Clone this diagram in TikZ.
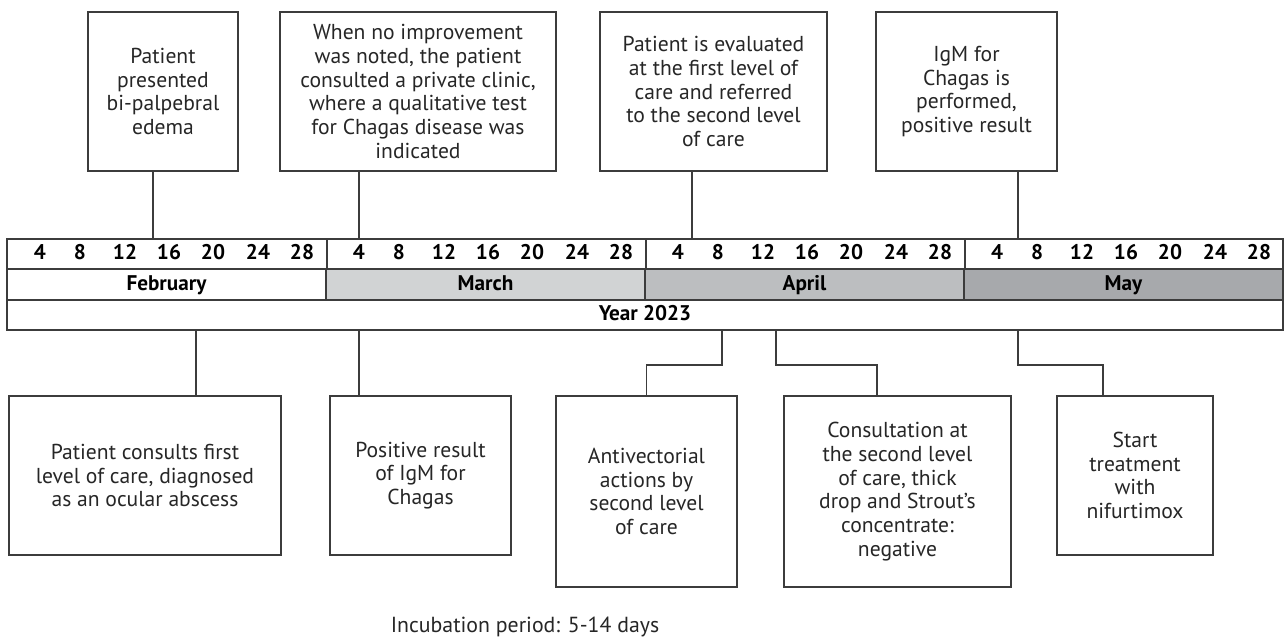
\documentclass[tikz,border=0pt]{standalone}
\usepackage{fontspec}
\setmainfont{PT Sans}
\usepackage{tikz}
\definecolor{linegray}{HTML}{3C3C3C}
\definecolor{margray}{HTML}{D1D3D4}
\definecolor{aprgray}{HTML}{BCBEC0}
\definecolor{maygray}{HTML}{A7A9AC}

\begin{document}
\begin{tikzpicture}[x=0.5pt, y=-0.5pt,
		event/.style={draw=linegray, line width=0.75pt, inner sep=0pt, align=center, text=black!85, font=\fontsize{10.8}{11.9}\selectfont},
		cell/.style={draw=linegray, line width=0.75pt, inner sep=0pt, text height=1.45ex, text depth=0.3ex, font=\fontsize{10.6}{11}\selectfont\bfseries},
		day/.style={inner sep=0pt, text height=1.45ex, text depth=0.3ex, font=\fontsize{10.6}{11}\selectfont\bfseries},
		link/.style={draw=linegray, line width=0.75pt}]
			%%%%% START %%%%%
			\useasboundingbox (0, 0) rectangle (1285, 639);
			
			% timeline
			\node[cell, minimum width=638pt, minimum height=15pt] (days) at (645, 254) {};
			\node[cell, minimum width=159.5pt, minimum height=15.5pt] (feb) at (166.5, 284.5) {February};
			\node[cell, fill=margray, minimum width=159.5pt, minimum height=15.5pt] (mar) at (485.5, 284.5) {March};
			\node[cell, fill=aprgray, minimum width=159.5pt, minimum height=15.5pt] (apr) at (804.5, 284.5) {April};
			\node[cell, fill=maygray, minimum width=159.5pt, minimum height=15.5pt] (may) at (1123.5, 284.5) {May};
			\node[cell, minimum width=638pt, minimum height=15pt] (year) at (645, 315) {Year 2023};
			
			\draw[link] (feb.north east) -- (feb.north east |- days.north);
			\draw[link] (mar.north east) -- (mar.north east |- days.north);
			\draw[link] (apr.north east) -- (apr.north east |- days.north);
			
			\node[day] (f4) at (40, 254) {4}; \node[day] (f8) at (80, 254) {8}; \node[day] (f12) at (125, 254) {12}; \node[day] (f16) at (169, 254) {16}; \node[day] (f20) at (213, 254) {20}; \node[day] (f24) at (258, 254) {24}; \node[day] (f28) at (302, 254) {28};
			\node[day] (m4) at (359, 254) {4}; \node[day] (m8) at (399, 254) {8}; \node[day] (m12) at (444, 254) {12}; \node[day] (m16) at (488, 254) {16}; \node[day] (m20) at (532, 254) {20}; \node[day] (m24) at (577, 254) {24}; \node[day] (m28) at (621, 254) {28};
			\node[day] (a4) at (678, 254) {4}; \node[day] (a8) at (718, 254) {8}; \node[day] (a12) at (763, 254) {12}; \node[day] (a16) at (807, 254) {16}; \node[day] (a20) at (851, 254) {20}; \node[day] (a24) at (896, 254) {24}; \node[day] (a28) at (940, 254) {28};
			\node[day] (y4) at (997, 254) {4}; \node[day] (y8) at (1037, 254) {8}; \node[day] (y12) at (1082, 254) {12}; \node[day] (y16) at (1126, 254) {16}; \node[day] (y20) at (1170, 254) {20}; \node[day] (y24) at (1215, 254) {24}; \node[day] (y28) at (1259, 254) {28};
			
			% dates of the events
			\coordinate (feb15) at (153, 0);
			\coordinate (feb17) at (196, 0);
			\coordinate (mar4) at (359, 0);
			\coordinate (apr5) at (692, 0);
			\coordinate (apr8) at (722, 0);
			\coordinate (apr12) at (776, 0);
			\coordinate (may5) at (1018, 0);
			\coordinate (drop4) at (877, 0);
			\coordinate (drop5) at (1103, 0);
			
			% above
			\node[event, minimum width=75pt, minimum height=79.5pt] (top1) at (163, 91.5) {Patient\\presented\\bi-palpebral\\edema};
			\node[event, minimum width=138pt, minimum height=79.5pt] (top2) at (418, 91.5) {When no improvement\\was noted, the patient\\consulted a private clinic,\\where a qualitative test\\for Chagas disease was\\indicated};
			\node[event, minimum width=113.5pt, minimum height=79.5pt] (top3) at (713.5, 91.5) {Patient is evaluated\\at the first level of\\care and referred\\to the second level\\of care};
			\node[event, minimum width=90.5pt, minimum height=79.5pt] (top4) at (966.5, 91.5) {IgM for\\Chagas is\\performed,\\positive result};
			
			\draw[link] (top1.south -| feb15) -- (days.north -| feb15);
			\draw[link] (top2.south -| mar4) -- (days.north -| mar4);
			\draw[link] (top3.south -| apr5) -- (days.north -| apr5);
			\draw[link] (top4.south -| may5) -- (days.north -| may5);
			
			% below
			\node[event, minimum width=136pt, minimum height=79.5pt] (bot1) at (145, 475.5) {Patient consults first\\level of care, diagnosed\\as an ocular abscess};
			\node[event, minimum width=90.5pt, minimum height=79.5pt] (bot2) at (420.5, 475.5) {Positive result\\of IgM for\\Chagas};
			\node[event, minimum width=90.5pt, minimum height=95.5pt] (bot3) at (646.5, 491.5) {Antivectorial\\actions by\\second level\\of care};
			\node[event, minimum width=113.5pt, minimum height=95.5pt] (bot4) at (897.5, 491.5) {Consultation at\\the second level\\of care, thick\\drop and Strout's\\concentrate:\\negative};
			\node[event, minimum width=78pt, minimum height=79.5pt] (bot5) at (1135, 475.5) {Start\\treatment\\with\\nifurtimox};
			
			\draw[link] (year.south -| feb17) -- (bot1.north -| feb17);
			\draw[link] (year.south -| mar4) -- (bot2.north -| mar4);
			\draw[link] (year.south -| apr8) -- ++(0, 34) -| (bot3.north);
			\draw[link] (year.south -| apr12) -- ++(0, 34) -| (bot4.north -| drop4);
			\draw[link] (year.south -| may5) -- ++(0, 34) -| (bot5.north -| drop5);
			
			\node[inner sep=0pt, text=black!85, font=\fontsize{10.9}{12}\selectfont] (incub) at (525, 627) {Incubation period: 5-14 days};
			%%%%% END %%%%%
		\end{tikzpicture}
\end{document}
